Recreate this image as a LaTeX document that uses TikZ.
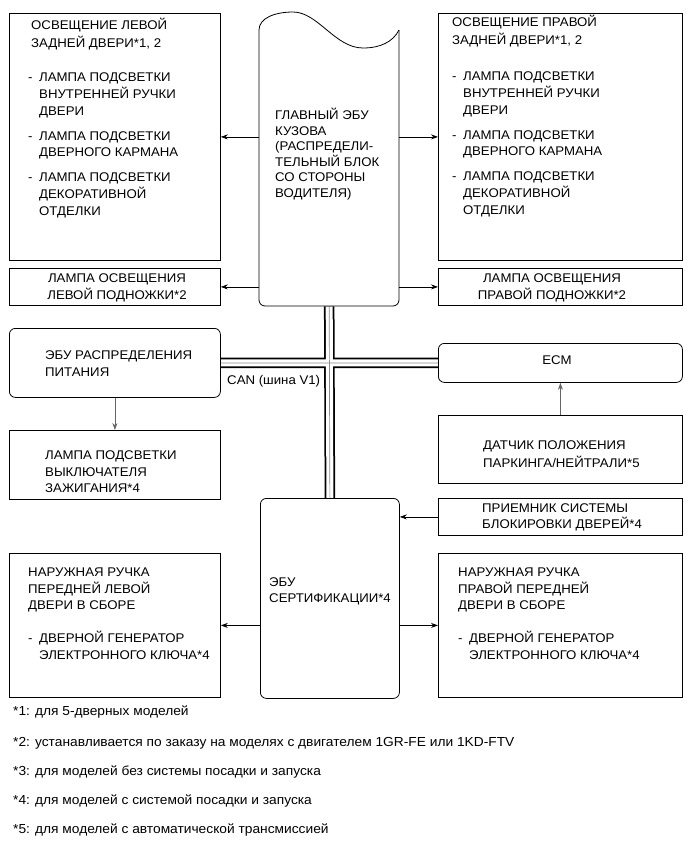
\documentclass[tikz,border=0pt]{standalone}
\usepackage{fontspec}
\setmainfont{Liberation Sans}[FakeStretch=1.05]
\usetikzlibrary{arrows.meta}
\pgfdeclarelayer{bg}
\pgfsetlayers{bg,main}
\newcommand\fs{\rule{0pt}{12pt}}
\newcommand\dsh{\makebox[11pt][l]{-}}
\newcommand\hin{\hspace*{11pt}}
\tikzset{
  box/.style={draw, line width=0.8pt, anchor=north west, inner sep=0pt},
  rbox/.style={box, rounded corners=6pt},
  txt/.style={anchor=north west, align=left, inner sep=0pt, font=\fontsize{12.6}{16.7}\selectfont},
  ctxt/.style={txt, anchor=north, align=center},
  note/.style={anchor=west, inner sep=0pt, font=\fontsize{13.1}{15}\selectfont},
  arr/.style={line width=0.8pt, -{Stealth[length=7pt,width=5pt]}},
  garr/.style={arr, draw=black!60},
  shp/.style={line width=0.8pt},
}
\begin{document}
\begin{tikzpicture}[x=1pt,y=-1pt]
\useasboundingbox (0,0) rectangle (691,855);

% boxes
\node[box, minimum width=211pt, minimum height=247pt] (lrear) at (9,13) {};
\node[box, minimum width=244pt, minimum height=247pt] (rrear) at (438,13) {};
\node[box, minimum width=211pt, minimum height=37pt] (lstep) at (9,268) {};
\node[box, minimum width=244pt, minimum height=37pt] (rstep) at (438,268) {};
\node[draw=none, anchor=north west, inner sep=0pt, minimum width=140pt, minimum height=294pt] (bcm) at (259,12) {};
\node[rbox, minimum width=211pt, minimum height=69pt] (pwr) at (9,328) {};
\node[box, minimum width=211pt, minimum height=69pt] (ign) at (9,430) {};
\node[rbox, minimum width=244pt, minimum height=39pt] (ecm) at (438,343) {};
\node[box, minimum width=244pt, minimum height=68pt] (pnp) at (438,415) {};
\node[box, minimum width=244pt, minimum height=37pt] (dlr) at (438,498) {};
\node[rbox, minimum width=139pt, minimum height=200pt] (cert) at (260,498) {};
\node[box, minimum width=211pt, minimum height=144pt] (lfd) at (9,553) {};
\node[box, minimum width=244pt, minimum height=144pt] (rfd) at (438,553) {};

% main body ECU shape
\draw[shp] (259,30) .. controls (259,18) and (275,12) .. (293,12)
  .. controls (318,12) and (335,48) .. (363,48)
  .. controls (380,48) and (393,42) .. (399,30);
\draw[shp, rounded corners=6pt] (399,30) -- (399,306) -- (259,306) -- (259,30);

% texts
\node[txt, font=\fontsize{12.6}{18}\selectfont] (lrear-t) at (31,17.5) {\fs ОСВЕЩЕНИЕ ЛЕВОЙ\\ЗАДНЕЙ ДВЕРИ*1, 2};
\node[txt] (lrear-l) at (28,69.5) {\fs\dsh ЛАМПА ПОДСВЕТКИ\\\hin ВНУТРЕННЕЙ РУЧКИ\\\hin ДВЕРИ\\[8.3pt]\dsh ЛАМПА ПОДСВЕТКИ\\\hin ДВЕРНОГО КАРМАНА\\[8.3pt]\dsh ЛАМПА ПОДСВЕТКИ\\\hin ДЕКОРАТИВНОЙ\\\hin ОТДЕЛКИ};
\node[txt, font=\fontsize{12.6}{18}\selectfont] (rrear-t) at (452,14.5) {\fs ОСВЕЩЕНИЕ ПРАВОЙ\\ЗАДНЕЙ ДВЕРИ*1, 2};
\node[txt] (rrear-l) at (452,68.5) {\fs\dsh ЛАМПА ПОДСВЕТКИ\\\hin ВНУТРЕННЕЙ РУЧКИ\\\hin ДВЕРИ\\[8.3pt]\dsh ЛАМПА ПОДСВЕТКИ\\\hin ДВЕРНОГО КАРМАНА\\[8.3pt]\dsh ЛАМПА ПОДСВЕТКИ\\\hin ДЕКОРАТИВНОЙ\\\hin ОТДЕЛКИ};
\node[ctxt, font=\fontsize{12.6}{17}\selectfont] (lstep-t) at (117,270.5) {\fs ЛАМПА ОСВЕЩЕНИЯ\\ЛЕВОЙ ПОДНОЖКИ*2};
\node[ctxt, font=\fontsize{12.6}{17}\selectfont] (rstep-t) at (552,270.5) {\fs ЛАМПА ОСВЕЩЕНИЯ\\ПРАВОЙ ПОДНОЖКИ*2};
\node[txt, font=\fontsize{12.6}{15.5}\selectfont] (bcm-t) at (275,107.5) {\fs ГЛАВНЫЙ ЭБУ\\КУЗОВА\\(РАСПРЕДЕЛИ-\\ТЕЛЬНЫЙ БЛОК\\СО СТОРОНЫ\\ВОДИТЕЛЯ)};
\node[txt, font=\fontsize{12.6}{17}\selectfont] (pwr-t) at (45,347.5) {\fs ЭБУ РАСПРЕДЕЛЕНИЯ\\ПИТАНИЯ};
\node[txt, font=\fontsize{12.6}{16.5}\selectfont] (ign-t) at (45,447.5) {\fs ЛАМПА ПОДСВЕТКИ\\ВЫКЛЮЧАТЕЛЯ\\ЗАЖИГАНИЯ*4};
\node[ctxt] (ecm-t) at (557,352.5) {\fs ECM};
\node[txt, font=\fontsize{12.6}{18}\selectfont] (pnp-t) at (483,437.5) {\fs ДАТЧИК ПОЛОЖЕНИЯ\\ПАРКИНГА/НЕЙТРАЛИ*5};
\node[txt, font=\fontsize{12.6}{16}\selectfont] (dlr-t) at (482,500.5) {\fs ПРИЕМНИК СИСТЕМЫ\\БЛОКИРОВКИ ДВЕРЕЙ*4};
\node[txt, font=\fontsize{12.6}{16.5}\selectfont] (lfd-t) at (28,564.5) {\fs НАРУЖНАЯ РУЧКА\\ПЕРЕДНЕЙ ЛЕВОЙ\\ДВЕРИ В СБОРЕ\\[16.5pt]\dsh ДВЕРНОЙ ГЕНЕРАТОР\\\hin ЭЛЕКТРОННОГО КЛЮЧА*4};
\node[txt, font=\fontsize{12.6}{16.5}\selectfont] (rfd-t) at (458,564.5) {\fs НАРУЖНАЯ РУЧКА\\ПРАВОЙ ПЕРЕДНЕЙ\\ДВЕРИ В СБОРЕ\\[16.5pt]\dsh ДВЕРНОЙ ГЕНЕРАТОР\\\hin ЭЛЕКТРОННОГО КЛЮЧА*4};
\node[txt, font=\fontsize{12.6}{16}\selectfont] (cert-t) at (269,574.5) {\fs ЭБУ\\СЕРТИФИКАЦИИ*4};
\node[txt] (can-t) at (227,372.5) {\fs CAN (шина V1)};

% footnotes
\node[note] (n1) at (13,712) {*1: для 5-дверных моделей};
\node[note] (n2) at (13,743) {*2: устанавливается по заказу на моделях с двигателем 1GR-FE или 1KD-FTV};
\node[note] (n3) at (13,772) {*3: для моделей без системы посадки и запуска};
\node[note] (n4) at (13,801) {*4: для моделей с системой посадки и запуска};
\node[note] (n5) at (13,830) {*5: для моделей с автоматической трансмиссией};

% connectors
\draw[arr] (bcm.west |- lrear.east) -- (lrear.east);
\draw[arr] (bcm.west |- lstep.east) -- (lstep.east);
\draw[arr] (bcm.east |- rrear.west) -- (rrear.west);
\draw[arr] (bcm.east |- rstep.west) -- (rstep.west);
\draw[garr] (pwr.south) -- (ign.north);
\draw[garr] (pnp.north) -- (ecm.south);
\draw[arr] (dlr.west) -- (cert.east |- dlr.west);
\draw[arr] (cert.west |- lfd.east) -- (lfd.east);
\draw[arr] (cert.east |- rfd.west) -- (rfd.west);

% CAN bus
\begin{pgfonlayer}{bg}
\draw[line width=10.5pt] (bcm.south) -- (cert.north) (pwr.east) -- (ecm.west);
\draw[line width=7pt, white] (bcm.south) -- (cert.north) (pwr.east) -- (ecm.west);
\draw[line width=0.7pt, black!45] (bcm.south) -- (cert.north) (pwr.east) -- (ecm.west);
\end{pgfonlayer}
\end{tikzpicture}
\end{document}
